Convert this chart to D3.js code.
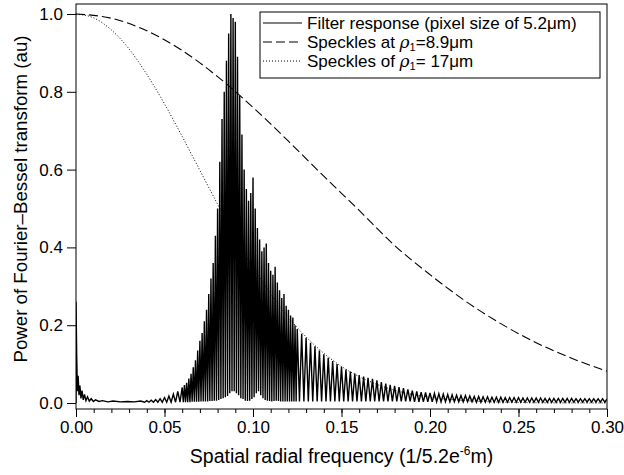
<!DOCTYPE html>
<html>
<head>
<meta charset="utf-8">
<script src="https://cdn.jsdelivr.net/npm/d3@7/dist/d3.min.js"></script>
<style>
body { margin: 0; background: #fff; }
text { font-family: "Liberation Sans", Arial, sans-serif; fill: #000; }
</style>
</head>
<body>
<div id="chart"></div>
<script>
const width = 624, height = 475;
const margin = { top: 4, right: 17, bottom: 66, left: 76 };

// ticks
const xMajorTicks = [0, 0.05, 0.10, 0.15, 0.20, 0.25, 0.30];
const xMinorTicks = d3.range(0, 31).map(i => i / 100);
const yTicks = [0, 0.2, 0.4, 0.6, 0.8, 1.0];

// legend
const legendLabels = ['Filter response (pixel size of 5.2\u03bcm)', 'Speckles at ', 'Speckles of '];

// speckles rho1 = 8.9um (dashed)
const speckles89 = [
    [0, 1.0], [0.02, 0.989], [0.04, 0.957], [0.06, 0.906], [0.08, 0.839], [0.10, 0.760],
    [0.12, 0.673], [0.14, 0.583], [0.16, 0.495], [0.18, 0.405], [0.20, 0.330], [0.22, 0.262],
    [0.24, 0.204], [0.26, 0.155], [0.28, 0.115], [0.30, 0.082]
];

// speckles rho1 = 17um (dotted)
const speckles17 = [
    [0, 1.0], [0.01, 0.990], [0.02, 0.959], [0.03, 0.910], [0.04, 0.845], [0.05, 0.769],
    [0.06, 0.685], [0.07, 0.598], [0.08, 0.511], [0.09, 0.427], [0.10, 0.350], [0.11, 0.281],
    [0.12, 0.220], [0.13, 0.170], [0.14, 0.128], [0.15, 0.094], [0.16, 0.068], [0.17, 0.048],
    [0.18, 0.033], [0.19, 0.022], [0.20, 0.015], [0.22, 0.006], [0.24, 0.0024], [0.26, 0.0008],
    [0.28, 0.0003], [0.30, 0.0001]
];

// filter response (solid), peaks and troughs
const filterResponse = [
    [0, 0], [0, 0.26], [0.0004, 0.12], [0.0008, 0.03], [0.0012, 0.07], [0.0017, 0.02], [0.0022, 0.045],
    [0.0028, 0.012], [0.0034, 0.032], [0.0041, 0.008], [0.0048, 0.022], [0.0056, 0.006], [0.0065, 0.016],
    [0.0075, 0.005], [0.0086, 0.011], [0.0098, 0.004], [0.011, 0.008], [0.013, 0.004], [0.015, 0.006],
    [0.018, 0.003], [0.021, 0.005], [0.025, 0.003], [0.029, 0.004], [0.033, 0.003], [0.0365, 0.005],
    [0.03875, 0.002],
    [0.04000, 0.006], [0.04125, 0.002], [0.04250, 0.007], [0.04375, 0.002], [0.04500, 0.009], [0.04625, 0.002],
    [0.04750, 0.011], [0.04875, 0.002], [0.05000, 0.014], [0.05125, 0.002], [0.05250, 0.018], [0.05375, 0.002],
    [0.05500, 0.023], [0.05625, 0.002], [0.05750, 0.030], [0.05875, 0.002],
    [0.06000, 0.040], [0.06063, 0.002], [0.06125, 0.046], [0.06188, 0.002],
    [0.06250, 0.052], [0.06313, 0.002], [0.06375, 0.063], [0.06438, 0.002],
    [0.06500, 0.075], [0.06563, 0.003], [0.06625, 0.092], [0.06688, 0.003],
    [0.06750, 0.110], [0.06813, 0.003], [0.06875, 0.135], [0.06938, 0.003],
    [0.07000, 0.160], [0.07063, 0.004], [0.07125, 0.180], [0.07188, 0.004],
    [0.07250, 0.210], [0.07313, 0.004], [0.07375, 0.240], [0.07438, 0.004],
    [0.07500, 0.280], [0.07563, 0.005], [0.07625, 0.320], [0.07688, 0.005],
    [0.07750, 0.360], [0.07813, 0.006], [0.07875, 0.430], [0.07938, 0.006],
    [0.08000, 0.500], [0.08063, 0.008], [0.08125, 0.620], [0.08188, 0.010],
    [0.08250, 0.730], [0.08313, 0.012], [0.08375, 0.800], [0.08438, 0.015],
    [0.08500, 0.880], [0.08563, 0.018], [0.08625, 0.950], [0.08688, 0.025],
    [0.08750, 1.000], [0.08813, 0.030], [0.08875, 0.990], [0.08938, 0.030],
    [0.09000, 0.980], [0.09063, 0.025], [0.09125, 0.890], [0.09188, 0.020],
    [0.09250, 0.790], [0.09313, 0.012], [0.09375, 0.690], [0.09438, 0.010],
    [0.09500, 0.600], [0.09563, 0.006], [0.09625, 0.550], [0.09688, 0.005],
    [0.09750, 0.520], [0.09813, 0.006], [0.09875, 0.540], [0.09938, 0.010],
    [0.10000, 0.580], [0.10063, 0.015], [0.10125, 0.500], [0.10188, 0.025],
    [0.10250, 0.450], [0.10313, 0.030], [0.10375, 0.420], [0.10438, 0.020],
    [0.10500, 0.390], [0.10563, 0.012], [0.10625, 0.400], [0.10688, 0.008],
    [0.10750, 0.410], [0.10813, 0.006], [0.10875, 0.360], [0.10938, 0.005],
    [0.11000, 0.340], [0.11063, 0.004], [0.11125, 0.330], [0.11188, 0.005],
    [0.11250, 0.350], [0.11313, 0.006], [0.11375, 0.310], [0.11438, 0.005],
    [0.11500, 0.290], [0.11563, 0.004], [0.11625, 0.270], [0.11688, 0.004],
    [0.11750, 0.280], [0.11813, 0.004], [0.11875, 0.250], [0.11938, 0.004],
    [0.12000, 0.240], [0.12063, 0.004], [0.12125, 0.225], [0.12188, 0.004],
    [0.12250, 0.220], [0.12313, 0.004], [0.12375, 0.200], [0.12438, 0.004],
    [0.12500, 0.190], [0.12625, 0.004], [0.12750, 0.178], [0.12875, 0.004],
    [0.13000, 0.168], [0.13125, 0.004], [0.13250, 0.155], [0.13375, 0.004], [0.13500, 0.146], [0.13625, 0.004],
    [0.13750, 0.135], [0.13875, 0.004], [0.14000, 0.125], [0.14125, 0.004], [0.14250, 0.116], [0.14375, 0.004],
    [0.14500, 0.108], [0.14625, 0.004], [0.14750, 0.100], [0.14875, 0.004], [0.15000, 0.093], [0.15125, 0.004],
    [0.15250, 0.086], [0.15375, 0.004], [0.15500, 0.081], [0.15625, 0.004], [0.15750, 0.076], [0.15875, 0.004],
    [0.16000, 0.072], [0.16125, 0.004], [0.16250, 0.068], [0.16375, 0.004], [0.16500, 0.065], [0.16625, 0.004],
    [0.16750, 0.062], [0.16875, 0.004], [0.17000, 0.058], [0.17125, 0.004], [0.17250, 0.054], [0.17375, 0.004],
    [0.17500, 0.050], [0.17625, 0.004], [0.17750, 0.047], [0.17875, 0.004], [0.18000, 0.044], [0.18125, 0.004],
    [0.18250, 0.041], [0.18375, 0.004], [0.18500, 0.038], [0.18625, 0.004], [0.18750, 0.035], [0.18875, 0.004],
    [0.19000, 0.032], [0.19125, 0.003], [0.19250, 0.030], [0.19375, 0.003], [0.19500, 0.028], [0.19625, 0.003],
    [0.19750, 0.027], [0.19875, 0.003], [0.20000, 0.026], [0.20125, 0.003], [0.20250, 0.025], [0.20375, 0.003],
    [0.20500, 0.024], [0.20625, 0.003], [0.20750, 0.023], [0.20875, 0.003], [0.21000, 0.022], [0.21125, 0.003],
    [0.21250, 0.021], [0.21375, 0.003], [0.21500, 0.020], [0.21625, 0.003], [0.21750, 0.019], [0.21875, 0.003],
    [0.22000, 0.019], [0.22125, 0.003], [0.22250, 0.018], [0.22375, 0.003], [0.22500, 0.017], [0.22625, 0.002],
    [0.22750, 0.017], [0.22875, 0.002], [0.23000, 0.016], [0.23125, 0.002], [0.23250, 0.016], [0.23375, 0.002],
    [0.23500, 0.015], [0.23625, 0.002], [0.23750, 0.015], [0.23875, 0.002], [0.24000, 0.015], [0.24125, 0.002],
    [0.24250, 0.014], [0.24375, 0.002], [0.24500, 0.014], [0.24625, 0.002], [0.24750, 0.014], [0.24875, 0.002],
    [0.25000, 0.014], [0.25125, 0.002], [0.25250, 0.013], [0.25375, 0.002], [0.25500, 0.013], [0.25625, 0.002],
    [0.25750, 0.013], [0.25875, 0.002], [0.26000, 0.013], [0.26125, 0.002], [0.26250, 0.013], [0.26375, 0.002],
    [0.26500, 0.012], [0.26625, 0.002], [0.26750, 0.012], [0.26875, 0.002], [0.27000, 0.012], [0.27125, 0.002],
    [0.27250, 0.012], [0.27375, 0.002], [0.27500, 0.012], [0.27625, 0.002], [0.27750, 0.012], [0.27875, 0.002],
    [0.28000, 0.012], [0.28125, 0.002], [0.28250, 0.011], [0.28375, 0.002], [0.28500, 0.011], [0.28625, 0.002],
    [0.28750, 0.011], [0.28875, 0.002], [0.29000, 0.011], [0.29125, 0.002], [0.29250, 0.011], [0.29375, 0.002],
    [0.29500, 0.011], [0.29625, 0.002], [0.29750, 0.011], [0.29875, 0.002], [0.30000, 0.010]
];

const xScale = d3.scaleLinear().domain([0, 0.3]).range([margin.left, width - margin.right]);
const yScale = d3.scaleLinear().domain([-0.0154, 1.0257]).range([height - margin.bottom, margin.top]);

const svg = d3.select('#chart').append('svg')
    .attr('width', width)
    .attr('height', height);

svg.append('clipPath').attr('id', 'plot-clip')
    .append('rect')
    .attr('x', margin.left).attr('y', margin.top)
    .attr('width', width - margin.left - margin.right)
    .attr('height', height - margin.top - margin.bottom);

const lineGen = d3.line().x(d => xScale(d[0])).y(d => yScale(d[1]));
const smoothLine = d3.line().x(d => xScale(d[0])).y(d => yScale(d[1])).curve(d3.curveMonotoneX);

const plot = svg.append('g').attr('clip-path', 'url(#plot-clip)');

plot.append('path')
    .datum(filterResponse)
    .attr('d', lineGen)
    .attr('fill', 'none')
    .attr('stroke', '#000')
    .attr('stroke-width', 1.4)
    .attr('stroke-linejoin', 'miter');

plot.append('path')
    .datum(speckles17)
    .attr('d', smoothLine)
    .attr('fill', 'none')
    .attr('stroke', '#000')
    .attr('stroke-width', 1)
    .attr('stroke-dasharray', '1,2');

plot.append('path')
    .datum(speckles89)
    .attr('d', smoothLine)
    .attr('fill', 'none')
    .attr('stroke', '#000')
    .attr('stroke-width', 1.1)
    .attr('stroke-dasharray', '9,4');

// frame
svg.append('rect')
    .attr('x', margin.left).attr('y', margin.top)
    .attr('width', width - margin.left - margin.right)
    .attr('height', height - margin.top - margin.bottom)
    .attr('fill', 'none')
    .attr('stroke', '#000')
    .attr('stroke-width', 1);

// axes
svg.append('g')
    .attr('transform', 'translate(' + margin.left + ',0)')
    .call(d3.axisLeft(yScale).tickValues(yTicks).tickSize(9).tickPadding(4).tickFormat(d3.format('.1f')));

svg.append('g')
    .attr('transform', 'translate(0,' + (height - margin.bottom) + ')')
    .call(d3.axisBottom(xScale).tickValues(xMinorTicks).tickSize(4).tickFormat(''));

svg.append('g')
    .attr('transform', 'translate(0,' + (height - margin.bottom) + ')')
    .call(d3.axisBottom(xScale).tickValues(xMajorTicks).tickSize(8).tickPadding(4).tickFormat(d3.format('.2f')));

svg.selectAll('.domain').remove();
svg.selectAll('.tick line').attr('stroke', '#000');
svg.selectAll('.tick text').attr('font-size', 17).attr('font-family', '"Liberation Sans", Arial, sans-serif').attr('fill', '#000');

// axis titles
svg.append('text')
    .attr('transform', 'translate(27,199) rotate(-90)')
    .attr('text-anchor', 'middle')
    .attr('font-size', 18.7)
    .text('Power of Fourier\u2013Bessel transform (au)');

const xTitle = svg.append('text')
    .attr('x', (margin.left + width - margin.right) / 2)
    .attr('y', 463)
    .attr('text-anchor', 'middle')
    .attr('font-size', 19.5);
xTitle.append('tspan').text('Spatial radial frequency (1/5.2e');
xTitle.append('tspan').attr('font-size', 12).attr('dy', -8).text('-6');
xTitle.append('tspan').attr('dy', 8).text('m)');

// legend
const legend = svg.append('g');
legend.append('rect')
    .attr('x', 260).attr('y', 12).attr('width', 340).attr('height', 66)
    .attr('fill', '#fff').attr('stroke', '#000').attr('stroke-width', 1);

const dashes = [null, '9,4', '1,2'];
legendLabels.forEach((lab, i) => {
    const yy = 23 + i * 19;
    legend.append('line')
        .attr('x1', 263).attr('x2', 302).attr('y1', yy).attr('y2', yy)
        .attr('stroke', '#000').attr('stroke-width', 1)
        .attr('stroke-dasharray', dashes[i]);
    const t = legend.append('text').attr('x', 307).attr('y', yy + 6).attr('font-size', 17);
    t.append('tspan').text(lab);
    if (i > 0) {
        t.append('tspan').attr('font-style', 'italic').attr('font-family', '"DejaVu Serif", serif').text('\u03c1');
        t.append('tspan').attr('font-size', 11).attr('dy', 3).text('1');
        t.append('tspan').attr('dy', -3).text(i === 1 ? '=8.9\u03bcm' : '= 17\u03bcm');
    }
});
</script>
</body>
</html>
